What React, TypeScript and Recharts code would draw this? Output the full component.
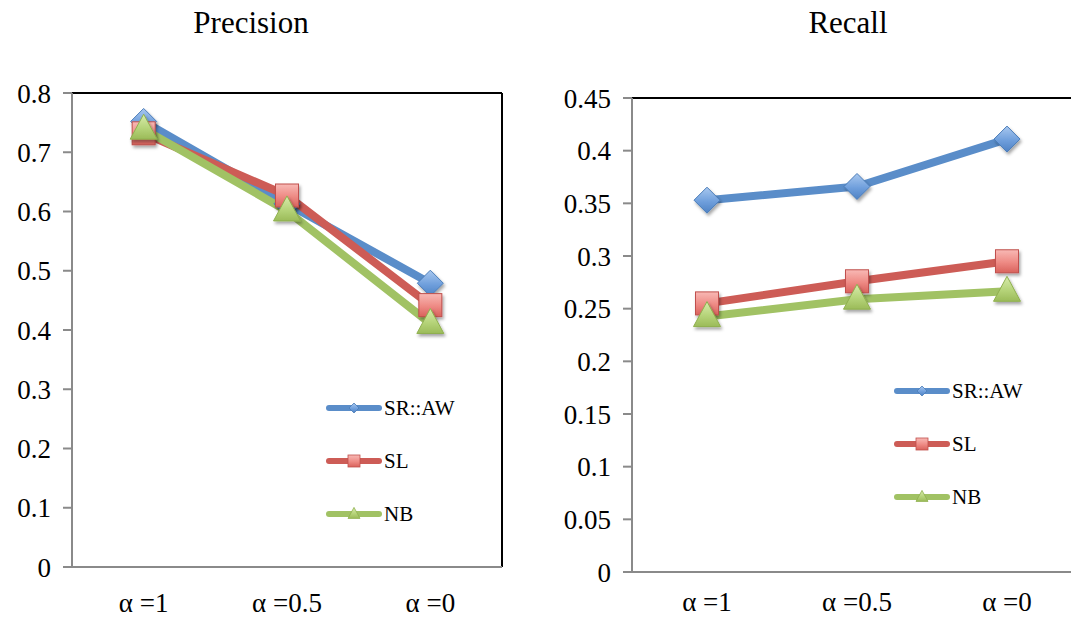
import React from 'react';
import { LineChart, Line, XAxis, YAxis, ReferenceLine } from 'recharts';

const categories = ['α =1', 'α =0.5', 'α =0'];

const precisionSR = [0.752, 0.613, 0.479];
const precisionSL = [0.732, 0.627, 0.442];
const precisionNB = [0.739, 0.601, 0.411];

const recallSR = [0.353, 0.366, 0.411];
const recallSL = [0.255, 0.276, 0.295];
const recallNB = [0.2425, 0.259, 0.2665];

const precisionTicks = [0, 0.1, 0.2, 0.3, 0.4, 0.5, 0.6, 0.7, 0.8];
const recallTicks = [0, 0.05, 0.1, 0.15, 0.2, 0.25, 0.3, 0.35, 0.4, 0.45];
const boundaryTicks = [0, 1, 2, 3];

const seriesNames = ['SR::AW', 'SL', 'NB'];

const FONT = '"Liberation Serif", "Times New Roman", serif';
const AXIS_GRAY = '#8a8a8a';
const BLUE = '#5a8dc9';
const RED = '#cd5c56';
const GREEN = '#a1c264';

const buildRows = (sr: number[], sl: number[], nb: number[]) =>
  categories.map((label, i) => ({ label, pos: i + 0.5, sr: sr[i], sl: sl[i], nb: nb[i] }));

const precisionRows = buildRows(precisionSR, precisionSL, precisionNB);
const recallRows = buildRows(recallSR, recallSL, recallNB);

// marker shapes
const diamondPath = (cx: number, cy: number, r: number) =>
  `M${cx},${cy - r} L${cx + r},${cy} L${cx},${cy + r} L${cx - r},${cy} Z`;
const trianglePath = (cx: number, cy: number, w: number, h: number) =>
  `M${cx},${cy - h * 0.6} L${cx + w / 2},${cy + h * 0.4} L${cx - w / 2},${cy + h * 0.4} Z`;

const DiamondDot = (p: any) => (
  <path key={`d-${p.index}`} d={diamondPath(p.cx, p.cy, 13)} fill="url(#gBlue)" stroke="#4a7cb8" strokeWidth={1} filter="url(#shadow)" />
);
const SquareDot = (p: any) => (
  <rect key={`s-${p.index}`} x={p.cx - 11.5} y={p.cy - 11.5} width={23} height={23} fill="url(#gRed)" stroke="#c0504d" strokeWidth={1} filter="url(#shadow)" />
);
const TriangleDot = (p: any) => (
  <path key={`t-${p.index}`} d={trianglePath(p.cx, p.cy, 27, 25)} fill="url(#gGreen)" stroke="#8fb04e" strokeWidth={1} filter="url(#shadow)" />
);

const legendMarkers = [
  (cx: number, cy: number) => <path d={diamondPath(cx, cy, 5)} fill="url(#gBlue)" stroke="#4a7cb8" strokeWidth={0.8} />,
  (cx: number, cy: number) => <rect x={cx - 6} y={cy - 6} width={12} height={12} fill="url(#gRed)" stroke="#c0504d" strokeWidth={0.8} />,
  (cx: number, cy: number) => <path d={trianglePath(cx, cy, 12, 11)} fill="url(#gGreen)" stroke="#8fb04e" strokeWidth={0.8} />,
];
const legendColors = [BLUE, RED, GREEN];

function SeriesLegend({ left, top }: { left: number; top: number }) {
  return (
    <div style={{ position: 'absolute', left, top, fontFamily: FONT, fontSize: 21, color: '#000' }}>
      {seriesNames.map((name, i) => (
        <div key={name} style={{ display: 'flex', alignItems: 'center', height: 24, marginBottom: i < 2 ? 29 : 0 }}>
          <svg width={58} height={16} style={{ display: 'block' }}>
            <line x1={4} y1={8} x2={54} y2={8} stroke={legendColors[i]} strokeWidth={6} strokeLinecap="round" />
            {legendMarkers[i](29, 8)}
          </svg>
          <span style={{ marginLeft: 1, lineHeight: '24px' }}>{name}</span>
        </div>
      ))}
    </div>
  );
}

const tickStyle = { fontFamily: FONT, fontSize: 27, fill: '#000' };

type PanelProps = {
  rows: ReturnType<typeof buildRows>;
  ticks: number[];
  width: number;
  labelGap: number;
  margin: { top: number; right: number; bottom: number; left: number };
};

function Panel({ rows, ticks, width, labelGap, margin }: PanelProps) {
  const yMax = ticks[ticks.length - 1];
  return (
    <LineChart width={width} height={620} data={rows} margin={margin}>
      {/* category names, centred in each band */}
      <XAxis
        xAxisId="b"
        dataKey="label"
        type="category"
        scale="band"
        height={40}
        axisLine={false}
        tickLine={false}
        tickSize={0}
        tickMargin={labelGap}
        tick={tickStyle}
        interval={0}
      />
      {/* axis line with tick marks between categories */}
      <XAxis
        xAxisId="a"
        dataKey="pos"
        type="number"
        domain={[0, 3]}
        ticks={boundaryTicks}
        tick={false}
        height={1}
        axisLine={{ stroke: AXIS_GRAY, strokeWidth: 2 }}
        tickLine={{ stroke: AXIS_GRAY, strokeWidth: 2 }}
        tickSize={9}
      />
      <YAxis
        domain={[0, yMax]}
        ticks={ticks}
        width={60}
        axisLine={{ stroke: AXIS_GRAY, strokeWidth: 2 }}
        tickLine={{ stroke: AXIS_GRAY, strokeWidth: 2 }}
        tickSize={9}
        tickMargin={12}
        tick={tickStyle}
      />
      <ReferenceLine y={yMax} xAxisId="a" stroke="#000" strokeWidth={2} />
      <ReferenceLine x={3} xAxisId="a" stroke="#000" strokeWidth={2} />
      <Line xAxisId="a" dataKey="sr" stroke={BLUE} strokeWidth={8} strokeLinejoin="round" dot={DiamondDot} activeDot={false} isAnimationActive={false} />
      <Line xAxisId="a" dataKey="sl" stroke={RED} strokeWidth={8} strokeLinejoin="round" dot={SquareDot} activeDot={false} isAnimationActive={false} />
      <Line xAxisId="a" dataKey="nb" stroke={GREEN} strokeWidth={8} strokeLinejoin="round" dot={TriangleDot} activeDot={false} isAnimationActive={false} />
    </LineChart>
  );
}

const titleStyle: React.CSSProperties = {
  position: 'absolute',
  top: 7,
  width: 200,
  textAlign: 'center',
  fontFamily: FONT,
  fontSize: 31,
  lineHeight: 1,
  color: '#000',
};

export default function App() {
  return (
    <div style={{ position: 'absolute', left: 0, top: 0, width: 1071, height: 620, overflow: 'hidden', background: '#fff' }}>
      <svg width={0} height={0} style={{ position: 'absolute' }}>
        <defs>
          <filter id="shadow" x="-60%" y="-60%" width="220%" height="220%">
            <feDropShadow dx={1.5} dy={2.5} stdDeviation={1.6} floodColor="#000" floodOpacity={0.35} />
          </filter>
          <linearGradient id="gBlue" x1="0" y1="0" x2="0" y2="1">
            <stop offset="0%" stopColor="#a9c8ef" />
            <stop offset="55%" stopColor="#6f9fdc" />
            <stop offset="100%" stopColor="#4f82c4" />
          </linearGradient>
          <linearGradient id="gRed" x1="0" y1="0" x2="0" y2="1">
            <stop offset="0%" stopColor="#f8b9b5" />
            <stop offset="55%" stopColor="#ee8a84" />
            <stop offset="100%" stopColor="#d9625c" />
          </linearGradient>
          <linearGradient id="gGreen" x1="0" y1="0" x2="0" y2="1">
            <stop offset="0%" stopColor="#d8ecad" />
            <stop offset="55%" stopColor="#b6d47a" />
            <stop offset="100%" stopColor="#9bbb59" />
          </linearGradient>
        </defs>
      </svg>

      <div style={{ ...titleStyle, left: 151 }}>Precision</div>
      <div style={{ ...titleStyle, left: 748 }}>Recall</div>

      <div style={{ position: 'absolute', left: 0, top: 0 }}>
        <Panel
          rows={precisionRows}
          ticks={precisionTicks}
          width={520}
          labelGap={25}
          margin={{ top: 93, right: 18, bottom: 12, left: 12 }}
        />
      </div>
      <div style={{ position: 'absolute', left: 540, top: 0 }}>
        <Panel
          rows={recallRows}
          ticks={recallTicks}
          width={542}
          labelGap={19}
          margin={{ top: 98, right: 0, bottom: 7, left: 32 }}
        />
      </div>

      <SeriesLegend left={325} top={396} />
      <SeriesLegend left={893} top={379} />
    </div>
  );
}
